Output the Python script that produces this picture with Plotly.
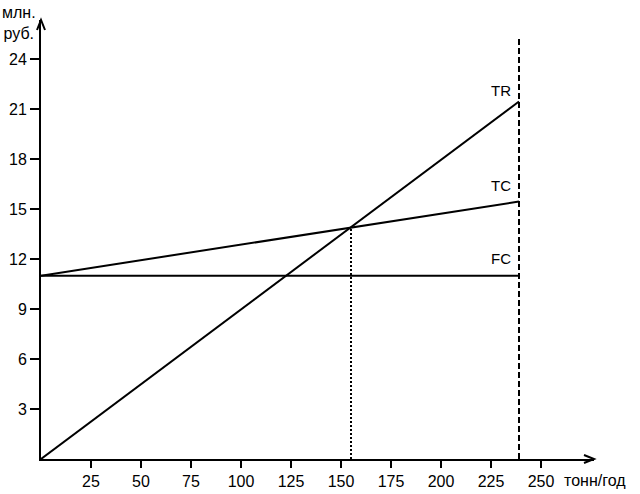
import plotly.graph_objects as go

# Data
volume = [0, 239]          # тонн/год
tr_values = [0, 21.45]     # TR, млн. руб.
tc_values = [11, 15.45]    # TC
fc_values = [11, 11]       # FC
breakeven_x = [155, 155]
breakeven_y = [0, 13.9]
capacity_x = [239, 239]
capacity_y = [0, 25.3]

x_ticks = [25, 50, 75, 100, 125, 150, 175, 200, 225, 250]
y_ticks = [3, 6, 9, 12, 15, 18, 21, 24]

X_MAX = 276.5
Y_MAX = 26.34

black = "#000000"
FONT = "Liberation Sans, Arial, sans-serif"

fig = go.Figure()
for xs, ys in [(volume, tr_values), (volume, tc_values), (volume, fc_values)]:
    fig.add_trace(go.Scatter(x=xs, y=ys, mode="lines",
                             line=dict(color=black, width=2), showlegend=False,
                             hoverinfo="skip"))
fig.add_trace(go.Scatter(x=breakeven_x, y=breakeven_y, mode="lines",
                         line=dict(color=black, width=2, dash="2px,2px"),
                         showlegend=False, hoverinfo="skip"))
fig.add_trace(go.Scatter(x=capacity_x, y=capacity_y, mode="lines",
                         line=dict(color=black, width=2, dash="6px,3px"),
                         showlegend=False, hoverinfo="skip"))

# Arrowheads on axes
fig.add_shape(type="path", xref="paper", yref="paper", xsizemode="pixel", ysizemode="pixel",
              xanchor=1, yanchor=0, path="M-10,-4 L0,0 L-10,4",
              line=dict(color=black, width=2))
fig.add_shape(type="path", xref="paper", yref="paper", xsizemode="pixel", ysizemode="pixel",
              xanchor=0, yanchor=1, path="M-4,-10 L0,0 L4,-10",
              line=dict(color=black, width=2))

# Line labels
for label, yv, ys in [("TR", tr_values[1], 1), ("TC", tc_values[1], 6), ("FC", fc_values[1], 7)]:
    fig.add_annotation(x=volume[1], y=yv, text=label, showarrow=False,
                       xanchor="right", yanchor="bottom", xshift=-6, yshift=ys,
                       font=dict(family=FONT, size=15, color=black))

fig.add_annotation(x=260.5, y=0, text="тонн/год", showarrow=False,
                   xanchor="left", yanchor="middle", yshift=-21,
                   font=dict(family=FONT, size=16, color=black))
fig.add_annotation(xref="x", yref="paper", x=0, y=1, text="млн.<br>руб.",
                   showarrow=False, xanchor="center", yanchor="middle",
                   xshift=-22, yshift=-3, align="center",
                   font=dict(family=FONT, size=16, color=black))

fig.update_layout(
    width=640, height=494,
    margin=dict(l=41, r=46, t=20, b=35),
    paper_bgcolor="white", plot_bgcolor="white",
    font=dict(family=FONT, size=15, color=black),
    xaxis=dict(range=[0, X_MAX], showgrid=False, zeroline=False, automargin=False,
               showline=True, linecolor=black, linewidth=2,
               tickmode="array", tickvals=x_ticks, ticktext=[str(v) for v in x_ticks],
               tickfont=dict(family=FONT, size=16, color=black),
               ticks="outside", ticklen=7, tickwidth=2, tickcolor=black),
    yaxis=dict(range=[0, Y_MAX], showgrid=False, zeroline=False, automargin=False,
               showline=True, linecolor=black, linewidth=2,
               tickmode="array", tickvals=y_ticks, ticktext=[str(v) for v in y_ticks],
               tickfont=dict(family=FONT, size=16, color=black),
               ticks="outside", ticklen=9, tickwidth=2, tickcolor=black),
)

fig.write_html("out.html", config={"displayModeBar": False},
               post_script="document.body.style.margin='0';document.body.style.overflow='hidden';")
